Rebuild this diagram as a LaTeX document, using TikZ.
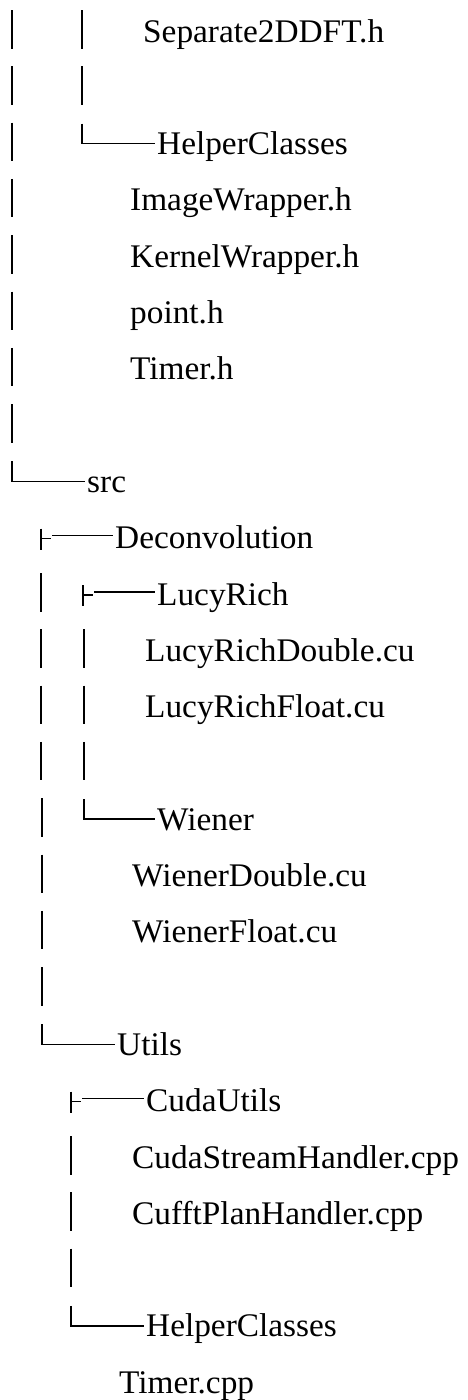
\documentclass[tikz,border=0pt]{standalone}
\usepackage{fontspec}
\setmainfont{Liberation Serif}[FakeStretch=1.01]
\begin{document}
\begin{tikzpicture}[x=1pt,y=-1pt,
  bar/.style={line width=1.5pt,black},
  fname/.style={anchor=base west,inner sep=0pt,font=\fontsize{33}{39}\selectfont}]
\useasboundingbox (0,0) rectangle (468,1400);
\newcommand\vbar[2]{\draw[bar] (#1,#2-32) -- (#1,#2+6.5);}
\newcommand\corner[3]{\draw[bar] (#1,#2-31) |- ([xshift=-2pt,yshift=11pt]#3.base west);}
\newcommand\tee[3]{\draw[bar] (#1,#2-20) -- (#1,#2+1);
  \draw[bar] (#1,#2-10) -- (#1+10,#2-10);
  \draw[bar] (#1+11,#2-13) -- ([xshift=-2pt,yshift=13pt]#3.base west);}
% texts
\node[fname] (sep) at (143,42) {Separate2DDFT.h};
\node[fname] (hcA) at (157,154.6) {HelperClasses};
\node[fname] (imw) at (130,210.9) {ImageWrapper.h};
\node[fname] (kw) at (130,267.2) {KernelWrapper.h};
\node[fname] (pt) at (130,323.5) {point.h};
\node[fname] (tmh) at (130,379.8) {Timer.h};
\node[fname] (src) at (87,492.4) {src};
\node[fname] (dec) at (115,548.7) {Deconvolution};
\node[fname] (lr) at (157,605) {LucyRich};
\node[fname] (lrd) at (145,661.3) {LucyRichDouble.cu};
\node[fname] (lrf) at (145,717.6) {LucyRichFloat.cu};
\node[fname] (wi) at (157,830.2) {Wiener};
\node[fname] (wid) at (132,886.5) {WienerDouble.cu};
\node[fname] (wif) at (132,942.8) {WienerFloat.cu};
\node[fname] (ut) at (117,1055.4) {Utils};
\node[fname] (cu) at (146,1111.7) {CudaUtils};
\node[fname] (csh) at (132,1168) {CudaStreamHandler.cpp};
\node[fname] (cph) at (132,1224.3) {CufftPlanHandler.cpp};
\node[fname] (hcB) at (146,1336.9) {HelperClasses};
\node[fname] (tcpp) at (119,1393.2) {Timer.cpp};
% tree lines
\vbar{12}{42} \vbar{82}{42}
\vbar{12}{98.3} \vbar{82}{98.3}
\vbar{12}{154.6} \corner{82}{154.6}{hcA}
\vbar{12}{210.9}
\vbar{12}{267.2}
\vbar{12}{323.5}
\vbar{12}{379.8}
\vbar{12}{436.1}
\corner{12}{492.4}{src}
\tee{41}{548.7}{dec}
\vbar{41}{605} \tee{83}{605}{lr}
\vbar{41}{661.3} \vbar{84}{661.3}
\vbar{41}{717.6} \vbar{84}{717.6}
\vbar{41}{773.9} \vbar{84}{773.9}
\vbar{42}{830.2} \corner{84}{830.2}{wi}
\vbar{42}{886.5}
\vbar{42}{942.8}
\vbar{42}{999.1}
\corner{42}{1055.4}{ut}
\tee{71}{1111.7}{cu}
\vbar{71}{1168}
\vbar{71}{1224.3}
\vbar{71}{1280.6}
\corner{71}{1336.9}{hcB}
\end{tikzpicture}
\end{document}
